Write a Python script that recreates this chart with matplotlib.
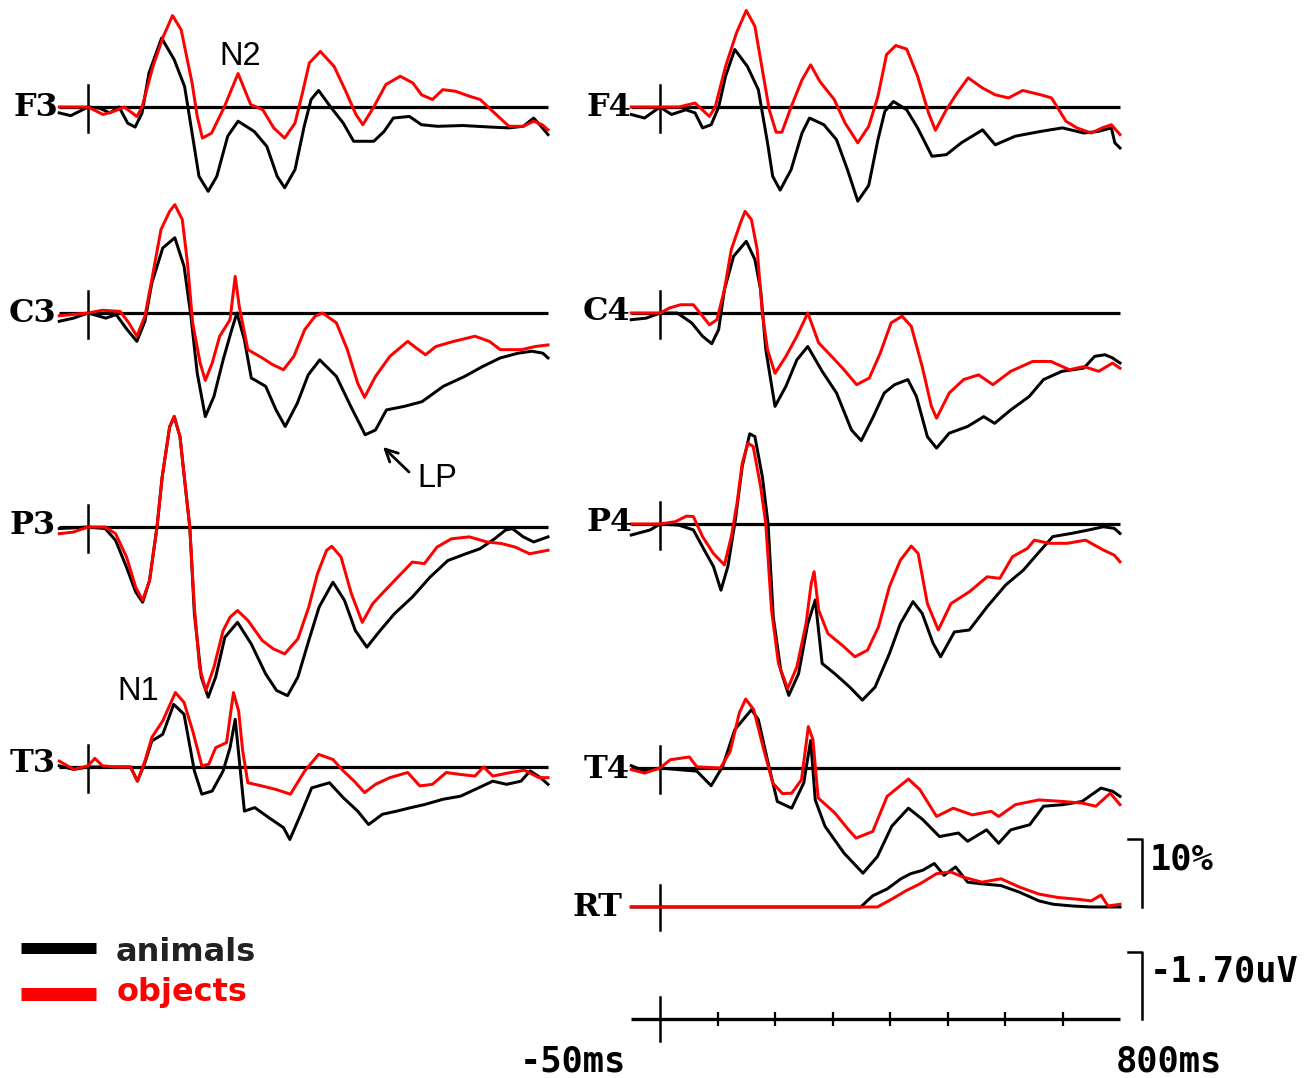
import matplotlib
matplotlib.use("Agg")
import matplotlib.pyplot as plt
from matplotlib.lines import Line2D
from matplotlib.patches import FancyArrowPatch

# ======================= DATA =======================
# time in ms, amplitude in microvolts (negative plotted upward, ERP convention)
T_START, T_END = -50, 800
TIME_TICKS = [100, 200, 300, 400, 500, 600, 700]
UV_CAL = -1.70          # amplitude calibration bar
RT_CAL = 10             # reaction-time calibration bar (%)
LEGEND = ["animals", "objects"]
ELECTRODES = ["F3", "F4", "C3", "C4", "P3", "P4", "T3", "T4"]

F3_animals = [(-50, 0.15), (-30, 0.22), (0, 0), (20, 0.03), (38, 0.15), (54, 0), (69, 0.41), (82, 0.51),
              (94, 0.15), (106, -0.86), (128, -1.75), (150, -1.20), (168, -0.52), (181, 0.66), (193, 1.76),
              (209, 2.14), (224, 1.76), (243, 0.74), (261, 0.36), (289, 0.62), (311, 1.0), (329, 1.76),
              (342, 2.05), (360, 1.59), (376, 0.49), (388, -0.19), (401, -0.42), (422, 0), (444, 0.41),
              (462, 0.87), (497, 0.87), (515, 0.62), (531, 0.28), (559, 0.24), (580, 0.45), (608, 0.49),
              (652, 0.47), (701, 0.51), (732, 0.53), (757, 0.49), (775, 0.28), (788, 0.49), (800, 0.70)]
F3_objects = [(-50, 0), (0, 0), (26, 0.19), (45, 0.11), (63, 0), (85, 0.24), (94, 0), (113, -1.03),
              (131, -1.79), (147, -2.32), (162, -1.96), (181, -0.61), (190, 0.24), (199, 0.79), (215, 0.66),
              (237, 0), (261, -0.85), (283, -0.06), (304, 0.07), (323, 0.53), (342, 0.79), (360, 0.41),
              (373, -0.36), (385, -1.12), (404, -1.41), (428, -1.03), (447, -0.44), (466, 0.19), (478, 0.45),
              (497, 0), (518, -0.57), (543, -0.78), (565, -0.61), (580, -0.31), (599, -0.19), (617, -0.44),
              (639, -0.40), (664, -0.27), (682, -0.19), (701, 0.07), (732, 0.49), (757, 0.49), (775, 0.36),
              (790, 0.45), (800, 0.58)]

F4_animals = [(-50, 0.19), (-27, 0.28), (0, 0), (20, 0.19), (45, 0.07), (61, 0.15), (74, 0.53), (89, 0.45),
              (102, 0), (114, -0.78), (130, -1.46), (152, -1.03), (171, -0.44), (187, 0.91), (196, 1.76),
              (209, 2.11), (228, 1.59), (247, 0.66), (260, 0.28), (285, 0.45), (307, 0.83), (326, 1.59),
              (344, 2.39), (363, 1.99), (379, 0.83), (391, 0.11), (406, -0.14), (429, 0.07), (448, 0.53),
              (473, 1.25), (498, 1.21), (524, 0.91), (561, 0.58), (583, 0.96), (618, 0.74), (662, 0.62),
              (700, 0.53), (737, 0.66), (762, 0.62), (785, 0.53), (791, 0.91), (800, 1.04)]
F4_objects = [(-50, 0), (0, 0), (33, 0), (61, -0.10), (86, 0.24), (96, 0), (114, -1.03), (133, -1.88),
              (150, -2.45), (165, -2.05), (177, -1.03), (190, 0.07), (202, 0.64), (212, 0.64), (228, 0),
              (247, -0.69), (262, -1.07), (278, -0.65), (303, -0.19), (322, 0.41), (344, 0.91), (363, 0.49),
              (379, -0.27), (394, -1.33), (410, -1.56), (429, -1.47), (448, -0.78), (467, 0.15), (479, 0.59),
              (498, 0.07), (517, -0.36), (536, -0.74), (561, -0.48), (583, -0.31), (606, -0.23), (631, -0.42),
              (662, -0.31), (681, -0.23), (706, 0.36), (725, 0.53), (750, 0.66), (769, 0.53), (785, 0.45),
              (800, 0.70)]

C3_animals = [(-50, 0.21), (-25, 0.13), (0, 0), (31, 0.13), (49, 0.04), (68, 0.42), (85, 0.72), (99, 0.21),
              (111, -0.76), (130, -1.65), (151, -1.91), (167, -1.19), (179, 0.08), (190, 1.53), (204, 2.63),
              (219, 2.12), (235, 1.19), (250, 0.42), (259, 0), (272, 0.68), (284, 1.65), (309, 1.86),
              (327, 2.46), (343, 2.88), (364, 2.29), (383, 1.57), (403, 1.19), (432, 1.61), (457, 2.37),
              (482, 3.09), (500, 2.97), (519, 2.46), (550, 2.37), (581, 2.25), (618, 1.86), (655, 1.61),
              (686, 1.36), (717, 1.14), (748, 1.02), (772, 0.97), (791, 1.02), (800, 1.14)]
C3_objects = [(-50, 0.07), (0, 0), (25, -0.07), (56, -0.04), (71, 0.25), (85, 0.59), (99, 0.08), (111, -0.85),
              (127, -2.12), (142, -2.58), (151, -2.75), (164, -2.37), (173, -1.27), (182, 0.25), (195, 1.27),
              (204, 1.71), (216, 1.27), (229, 0.59), (247, 0.17), (256, -0.93), (263, -0.17), (278, 0.93),
              (303, 1.14), (321, 1.31), (340, 1.44), (358, 1.10), (377, 0.42), (395, 0.08), (408, 0),
              (432, 0.25), (451, 0.93), (469, 1.78), (481, 2.14), (500, 1.61), (525, 1.10), (556, 0.72),
              (571, 0.89), (587, 1.06), (605, 0.85), (636, 0.72), (673, 0.59), (698, 0.72), (717, 0.93),
              (754, 0.93), (778, 0.85), (800, 0.81)]

C4_animals = [(-50, 0.17), (-24, 0.13), (0, 0), (30, 0), (55, 0.25), (74, 0.59), (90, 0.78), (102, 0.42),
              (112, -0.59), (128, -1.44), (150, -1.82), (165, -1.36), (175, -0.59), (184, 0.93), (200, 2.37),
              (219, 1.86), (238, 1.19), (257, 0.85), (282, 1.48), (307, 2.03), (333, 2.97), (350, 3.24),
              (371, 2.63), (390, 2.03), (408, 1.82), (431, 1.69), (446, 2.12), (465, 3.14), (481, 3.43),
              (503, 3.05), (535, 2.88), (563, 2.63), (582, 2.80), (610, 2.46), (642, 2.12), (667, 1.69),
              (699, 1.48), (737, 1.40), (756, 1.10), (774, 1.06), (787, 1.14), (800, 1.27)]
C4_objects = [(-50, 0), (0, 0), (17, -0.13), (36, -0.21), (58, -0.21), (74, 0.08), (86, 0.30), (99, 0.17),
              (112, -0.59), (124, -1.61), (140, -2.29), (148, -2.58), (159, -2.37), (169, -1.61), (178, 0),
              (187, 0.93), (200, 1.53), (219, 1.10), (238, 0.59), (257, 0), (276, 0.76), (301, 1.14),
              (320, 1.44), (342, 1.82), (364, 1.65), (383, 1.02), (402, 0.25), (421, 0.08), (437, 0.34),
              (456, 1.36), (472, 2.37), (481, 2.67), (503, 2.03), (528, 1.69), (554, 1.57), (579, 1.82),
              (610, 1.48), (648, 1.23), (680, 1.23), (712, 1.44), (737, 1.36), (763, 1.48), (787, 1.27),
              (800, 1.40)]

P3_animals = [(-50, 0.04), (0, 0), (30, 0.04), (48, 0.34), (67, 1.02), (83, 1.65), (95, 1.91), (107, 1.36),
              (120, 0), (129, -1.27), (142, -2.54), (150, -2.80), (160, -2.29), (170, -0.93), (177, 0),
              (185, 2.20), (197, 3.81), (209, 4.32), (222, 3.81), (238, 2.80), (260, 2.42), (284, 2.97),
              (309, 3.73), (328, 4.15), (347, 4.28), (365, 3.81), (384, 2.88), (402, 2.03), (426, 1.40),
              (446, 1.86), (465, 2.63), (485, 3.05), (508, 2.63), (533, 2.20), (564, 1.78), (595, 1.27),
              (626, 0.85), (657, 0.68), (682, 0.55), (707, 0.30), (726, 0.08), (738, 0.04), (757, 0.25),
              (775, 0.38), (800, 0.25)]
P3_objects = [(-50, 0.17), (-26, 0.13), (0, 0), (30, 0), (48, 0.17), (67, 0.76), (83, 1.53), (95, 1.86),
              (107, 1.36), (120, 0), (129, -1.27), (142, -2.54), (150, -2.81), (160, -2.29), (170, -0.93),
              (177, 0), (185, 2.03), (194, 3.56), (205, 4.15), (219, 3.56), (235, 2.63), (247, 2.29),
              (260, 2.12), (278, 2.37), (303, 2.88), (322, 3.09), (342, 3.22), (365, 2.84), (384, 2.03),
              (399, 1.19), (415, 0.59), (424, 0.49), (440, 0.76), (458, 1.69), (477, 2.42), (495, 1.95),
              (514, 1.65), (539, 1.27), (564, 0.89), (585, 0.93), (607, 0.51), (632, 0.30), (663, 0.25),
              (694, 0.38), (719, 0.42), (743, 0.51), (768, 0.68), (800, 0.59)]

P4_animals = [(-50, 0.28), (-17, 0.15), (0, 0), (33, 0.03), (58, 0.15), (77, 0.66), (93, 1.08), (106, 1.68),
              (118, 1.08), (131, -0.10), (143, -1.46), (156, -2.29), (165, -2.22), (178, -1.20), (188, 0),
              (197, 2.36), (210, 3.71), (224, 4.35), (241, 3.80), (257, 2.53), (270, 1.93), (282, 3.54),
              (304, 3.80), (330, 4.14), (352, 4.47), (374, 4.14), (399, 3.29), (418, 2.53), (440, 1.97),
              (456, 2.27), (475, 3.03), (488, 3.37), (512, 2.74), (538, 2.69), (569, 2.10), (601, 1.55),
              (632, 1.17), (657, 0.75), (683, 0.32), (715, 0.24), (746, 0.15), (771, 0.07), (790, 0.11),
              (800, 0.24)]
P4_objects = [(-50, 0), (0, 0), (27, -0.06), (46, -0.20), (58, -0.19), (74, 0.32), (93, 0.75), (112, 1.04),
              (124, 0.32), (134, -0.53), (143, -1.54), (153, -2.05), (162, -1.97), (175, -0.95), (184, 0),
              (194, 2.19), (206, 3.54), (222, 4.18), (238, 3.63), (254, 2.53), (263, 1.51), (268, 1.21),
              (276, 2.19), (292, 2.78), (317, 3.08), (339, 3.37), (361, 3.20), (380, 2.61), (399, 1.59),
              (418, 0.92), (437, 0.56), (449, 0.75), (465, 2.02), (484, 2.69), (506, 2.02), (538, 1.72),
              (569, 1.34), (591, 1.38), (613, 0.83), (639, 0.62), (651, 0.41), (677, 0.49), (708, 0.49),
              (740, 0.41), (771, 0.66), (790, 0.79), (800, 0.96)]

T3_animals = [(-50, -0.03), (-25, 0.06), (0, 0), (49, 0), (74, 0), (86, 0.36), (99, -0.11), (111, -0.66),
              (130, -0.83), (149, -1.59), (167, -1.34), (185, 0.10), (198, 0.69), (216, 0.61), (235, 0.10),
              (247, -0.49), (256, -1.21), (265, 0.10), (272, 1.12), (290, 1.03), (315, 1.29), (340, 1.54),
              (351, 1.84), (370, 1.20), (389, 0.53), (420, 0.40), (444, 0.78), (469, 1.12), (488, 1.46),
              (512, 1.20), (537, 1.12), (562, 1.03), (586, 0.95), (617, 0.82), (648, 0.74), (679, 0.53),
              (704, 0.36), (728, 0.44), (753, 0.36), (769, 0.10), (787, 0.27), (800, 0.44)]
T3_objects = [(-50, -0.15), (-25, 0.06), (0, -0.03), (12, -0.22), (25, -0.03), (49, 0), (74, 0), (86, 0.36),
              (99, -0.15), (111, -0.75), (130, -1.17), (152, -1.89), (167, -1.64), (182, -0.92), (198, -0.03),
              (210, -0.07), (222, -0.49), (241, -0.62), (253, -1.89), (262, -1.42), (269, -0.41), (278, 0.40),
              (302, 0.48), (327, 0.57), (352, 0.69), (377, 0.10), (401, -0.32), (426, -0.19), (444, 0.10),
              (463, 0.36), (481, 0.65), (500, 0.44), (525, 0.27), (556, 0.14), (577, 0.48), (599, 0.44),
              (623, 0.14), (648, 0.19), (673, 0.23), (688, 0), (704, 0.23), (735, 0.14), (759, 0.08),
              (784, 0.27), (800, 0.27)]

T4_animals = [(-50, -0.06), (-27, 0.08), (0, 0), (31, 0.04), (64, 0.08), (89, 0.45), (109, -0.04), (130, -0.97),
              (159, -1.48), (171, -1.23), (188, -0.13), (204, 0.85), (229, 1.02), (250, 0.38), (262, -0.70),
              (270, 0.81), (287, 1.48), (320, 2.16), (353, 2.67), (378, 2.25), (403, 1.48), (432, 1.02),
              (457, 1.31), (486, 1.74), (519, 1.65), (535, 1.86), (568, 1.57), (589, 1.91), (610, 1.57),
              (643, 1.44), (667, 0.97), (701, 0.93), (734, 0.85), (767, 0.51), (787, 0.59), (800, 0.72)]
T4_objects = [(-50, 0.04), (-27, 0.13), (0, 0), (18, -0.21), (51, -0.28), (64, -0.03), (105, 0), (122, -0.42),
              (138, -1.40), (149, -1.75), (163, -1.48), (179, -0.55), (196, 0.38), (213, 0.65), (229, 0.64),
              (246, 0.30), (258, -1.05), (266, -0.72), (275, 0.76), (304, 1.14), (328, 1.57), (341, 1.78),
              (370, 1.61), (395, 0.72), (432, 0.28), (452, 0.55), (481, 1.23), (510, 1.02), (543, 1.19),
              (576, 1.10), (589, 1.23), (618, 0.93), (659, 0.81), (701, 0.85), (734, 0.89), (758, 0.97),
              (783, 0.64), (800, 0.93)]

# reaction-time distributions (% of responses)
RT_animals = [(-50, 0), (349, 0), (370, 1.65), (395, 2.65), (419, 4.15), (436, 4.9), (457, 5.4), (477, 6.4),
              (494, 4.65), (514, 5.9), (535, 3.65), (560, 3.4), (593, 3.15), (626, 2.15), (659, 0.9),
              (684, 0.4), (717, 0.15), (750, 0), (800, 0)]
RT_objects = [(-50, 0), (378, 0), (403, 1.15), (428, 2.4), (452, 3.4), (481, 4.9), (506, 5.15), (527, 4.4),
              (560, 3.65), (593, 4.15), (626, 2.9), (659, 1.9), (692, 1.4), (725, 1.15), (750, 0.9),
              (767, 1.75), (779, 0.15), (800, 0.4)]

WAVES = {"F3": (F3_animals, F3_objects), "F4": (F4_animals, F4_objects),
         "C3": (C3_animals, C3_objects), "C4": (C4_animals, C4_objects),
         "P3": (P3_animals, P3_objects), "P4": (P4_animals, P4_objects),
         "T3": (T3_animals, T3_objects), "T4": (T4_animals, T4_objects)}

# ======================= LAYOUT / STYLE =======================
W, H, DPI = 1316, 1078, 100
PX_MS = 0.575      # pixels per ms
PX_UV = 39.4       # pixels per microvolt
PX_PCT = 6.8       # pixels per percent (RT)
RED = "#ff0000"
LW_WAVE = 2.15

# (x of time zero, y of baseline, label right edge, label baseline) in pixels
PANEL_POS = {"F3": (88, 107, 58, 116), "F4": (660, 107, 631, 116),
             "C3": (88, 313, 56, 322), "C4": (660, 313, 630, 320),
             "P3": (88, 527, 56, 534), "P4": (660, 524, 633, 531),
             "T3": (88, 767, 56, 772), "T4": (660, 768, 630, 778)}

fig = plt.figure(figsize=(W / DPI, H / DPI), dpi=DPI)
fig.patch.set_facecolor("white")


def fx(x):
    return x / W


def fy(y):
    return 1 - y / H


def make_axes(zero_px, base_px, px_per_unit, invert=True):
    t0, t1 = -90, 900
    half = 260
    ax = fig.add_axes([fx(zero_px + t0 * PX_MS), fy(base_px + half),
                       (t1 - t0) * PX_MS / W, 2 * half / H])
    ax.set_xlim(t0, t1)
    lim = half / px_per_unit
    ax.set_ylim((lim, -lim) if invert else (-lim, lim))
    ax.axis("off")
    return ax


def unzip(pairs):
    return [p[0] for p in pairs], [p[1] for p in pairs]


label_font = dict(family="DejaVu Serif", weight="bold", size=23)
mono_font = dict(family="DejaVu Sans Mono", weight="bold", size=25.5)

for name in ELECTRODES:
    zx, base, lx, ly = PANEL_POS[name]
    anim, obj = WAVES[name]
    ax = make_axes(zx, base, PX_UV)
    ax.plot([T_START, T_END], [0, 0], color="black", lw=2.3, solid_capstyle="butt")
    ax.plot([0, 0], [-22 / PX_UV, 25 / PX_UV], color="black", lw=1.8)
    t, v = unzip(anim)
    ax.plot(t, v, color="black", lw=LW_WAVE)
    t, v = unzip(obj)
    ax.plot(t, v, color=RED, lw=LW_WAVE)
    fig.text(fx(lx), fy(ly), name, ha="right", va="baseline", **label_font)

# ---- RT panel ----
ax_rt = make_axes(660, 907, PX_PCT, invert=False)
ax_rt.plot([0, 0], [-23 / PX_PCT, 22 / PX_PCT], color="black", lw=1.8)
t, v = unzip(RT_animals)
ax_rt.plot(t, v, color="black", lw=LW_WAVE)
t, v = unzip(RT_objects)
ax_rt.plot(t, v, color=RED, lw=LW_WAVE)
fig.text(fx(623), fy(916), "RT", ha="right", va="baseline", **label_font)
bar_x = T_END + 22 / PX_MS
ax_rt.plot([bar_x - 14 / PX_MS, bar_x, bar_x], [RT_CAL, RT_CAL, 0], color="black", lw=1.8,
           clip_on=False)
fig.text(fx(1150), fy(870), f"{RT_CAL}%", ha="left", va="baseline", **mono_font)

# ---- time axis & amplitude calibration ----
ax_t = make_axes(660, 1019, PX_UV)
ax_t.plot([T_START, T_END], [0, 0], color="black", lw=2.4, solid_capstyle="butt")
ax_t.plot([0, 0], [-22 / PX_UV, 22 / PX_UV], color="black", lw=1.8)
ax_t.vlines(TIME_TICKS, -7 / PX_UV, 7 / PX_UV, color="black", lw=1.6)
ax_t.plot([bar_x - 14 / PX_MS, bar_x, bar_x], [UV_CAL, UV_CAL, 0], color="black", lw=1.8,
          clip_on=False)
fig.text(fx(1150), fy(982), f"{UV_CAL:.2f}uV", ha="left", va="baseline", **mono_font)
fig.text(fx(626), fy(1072), f"{T_START}ms", ha="right", va="baseline", **mono_font)
fig.text(fx(1116), fy(1072), f"{T_END}ms", ha="left", va="baseline", **mono_font)

# ---- component annotations ----
ann_font = dict(family="Liberation Sans", size=23.5)
fig.text(fx(240), fy(65), "N2", ha="center", va="baseline", **ann_font)
fig.text(fx(138), fy(700), "N1", ha="center", va="baseline", **ann_font)
fig.text(fx(417), fy(487), "LP", ha="left", va="baseline", **ann_font)
fig.add_artist(FancyArrowPatch(posA=(fx(409), fy(472)), posB=(fx(383), fy(447)),
                               transform=fig.transFigure, arrowstyle="->", mutation_scale=22,
                               lw=2.0, color="black", shrinkA=0, shrinkB=0))

# ---- legend ----
fig.add_artist(Line2D([fx(21), fx(96)], [fy(948), fy(948)], transform=fig.transFigure,
                      color="black", lw=11 * 0.72, solid_capstyle="butt"))
fig.add_artist(Line2D([fx(21), fx(96)], [fy(994), fy(994)], transform=fig.transFigure,
                      color=RED, lw=13 * 0.72, solid_capstyle="butt"))
leg_font = dict(family="DejaVu Sans", weight="bold", size=23)
fig.text(fx(116), fy(961), LEGEND[0], color="#222222", ha="left", va="baseline", **leg_font)
fig.text(fx(117), fy(1001), LEGEND[1], color=RED, ha="left", va="baseline", **leg_font)

fig.savefig("out.png", dpi=DPI)
